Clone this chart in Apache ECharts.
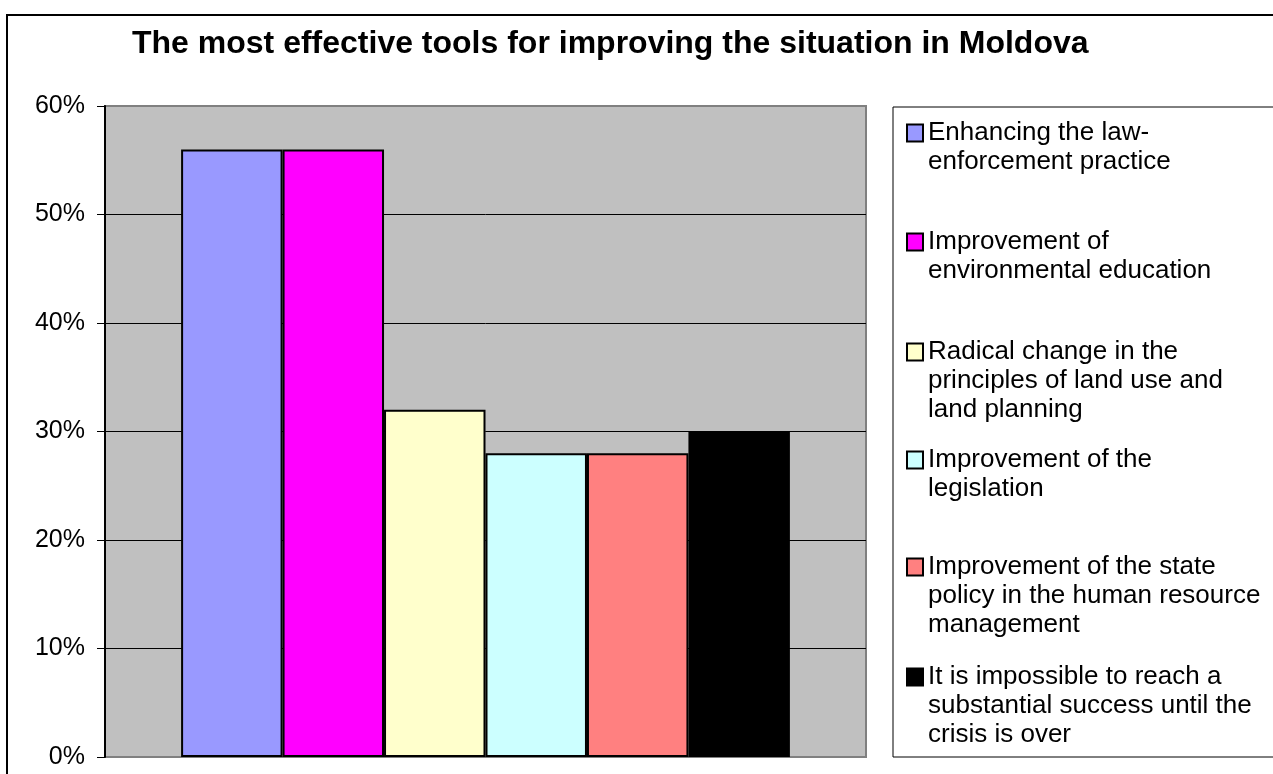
<!DOCTYPE html>
<html>
<head>
<meta charset="utf-8">
<title>The most effective tools for improving the situation in Moldova</title>
<script src="https://cdn.jsdelivr.net/npm/echarts@6/dist/echarts.min.js"></script>
<style>
  html, body { margin: 0; padding: 0; background: #fff; }
  #main { width: 1273px; height: 774px; }
</style>
</head>
<body>
<div id="main"></div>
<script>
// chart data
var seriesNames = [
    'Enhancing the law-enforcement practice',
    'Improvement of environmental education',
    'Radical change in the principles of land use and land planning',
    'Improvement of the legislation',
    'Improvement of the state policy in the human resource management',
    'It is impossible to reach a substantial success until the crisis is over'
];
// legend text, broken into lines the way the original shows it
var legendLines = [
    ['Enhancing the law-', 'enforcement practice'],
    ['Improvement of', 'environmental education'],
    ['Radical change in the', 'principles of land use and', 'land planning'],
    ['Improvement of the', 'legislation'],
    ['Improvement of the state', 'policy in the human resource', 'management'],
    ['It is impossible to reach a', 'substantial success until the', 'crisis is over']
];
var values = [56, 56, 32, 28, 28, 30];   // percent
var barColors = ['#9999FF', '#FF00FF', '#FFFFCC', '#CCFFFF', '#FF8080', '#000000'];
var yMin = 0, yMax = 60, yStep = 10;

var font = 'Liberation Sans, Arial, sans-serif';
var lineH = 29;
// y of the first text line of each legend entry
var legendRowY = [133, 242, 352, 460, 567, 677];

var myChart = echarts.init(document.getElementById('main'));

var legends = seriesNames.map(function (name, i) {
    var n = legendLines[i].length;
    return {
        data: [name],
        orient: 'vertical',
        left: 906,
        top: legendRowY[i] - (2 * n - 1) * lineH / 2,
        padding: 0,
        icon: 'rect',
        itemWidth: 16,
        itemHeight: 17,
        selectedMode: false,
        itemStyle: {
            color: barColors[i],
            borderColor: '#000',
            borderWidth: 2
        },
        // empty lines on top keep the first line level with the square
        formatter: function () {
            return new Array(n).join('\n') + legendLines[i].join('\n');
        },
        textStyle: {
            fontFamily: font,
            fontSize: 26,
            lineHeight: lineH,
            color: '#000'
        }
    };
});

var series = seriesNames.map(function (name, i) {
    return {
        name: name,
        type: 'bar',
        data: [values[i]],
        barGap: 0,
        barCategoryGap: '20%',
        itemStyle: {
            color: barColors[i],
            borderColor: '#000',
            borderWidth: 2
        },
        emphasis: { disabled: true }
    };
});

var option = {
    backgroundColor: '#fff',
    animation: false,
    title: {
        text: 'The most effective tools for improving the situation in Moldova',
        left: 132,
        top: 28,
        padding: 0,
        textStyle: {
            fontFamily: font,
            fontWeight: 'bold',
            fontSize: 32,
            color: '#000'
        }
    },
    legend: legends,
    grid: {
        left: 105,
        top: 106,
        right: 407,
        bottom: 17,
        show: true,
        backgroundColor: '#C0C0C0',
        borderColor: '#808080',
        borderWidth: 2,
        outerBoundsMode: 'none'
    },
    xAxis: {
        type: 'category',
        data: [''],
        axisLine: { show: false },
        axisTick: { show: false },
        axisLabel: { show: false },
        splitLine: { show: false }
    },
    yAxis: {
        type: 'value',
        min: yMin,
        max: yMax,
        interval: yStep,
        axisLine: { show: true, lineStyle: { color: '#000', width: 2 } },
        axisTick: { show: true, length: 8, lineStyle: { color: '#000', width: 1 } },
        axisLabel: {
            formatter: '{value}%',
            margin: 20,
            fontFamily: font,
            fontSize: 25,
            color: '#000'
        },
        splitLine: {
            show: true,
            showMinLine: false,
            showMaxLine: false,
            lineStyle: { color: '#000', width: 1 }
        }
    },
    graphic: [
        {   // outer chart frame
            type: 'rect',
            shape: { x: 7, y: 15, width: 1300, height: 800 },
            style: { fill: 'none', stroke: '#000', lineWidth: 2 },
            silent: true
        },
        {   // legend frame
            type: 'rect',
            shape: { x: 893, y: 107, width: 420, height: 650 },
            style: { fill: 'none', stroke: '#000', lineWidth: 1 },
            silent: true
        }
    ],
    series: series
};
myChart.setOption(option);
</script>
</body>
</html>
